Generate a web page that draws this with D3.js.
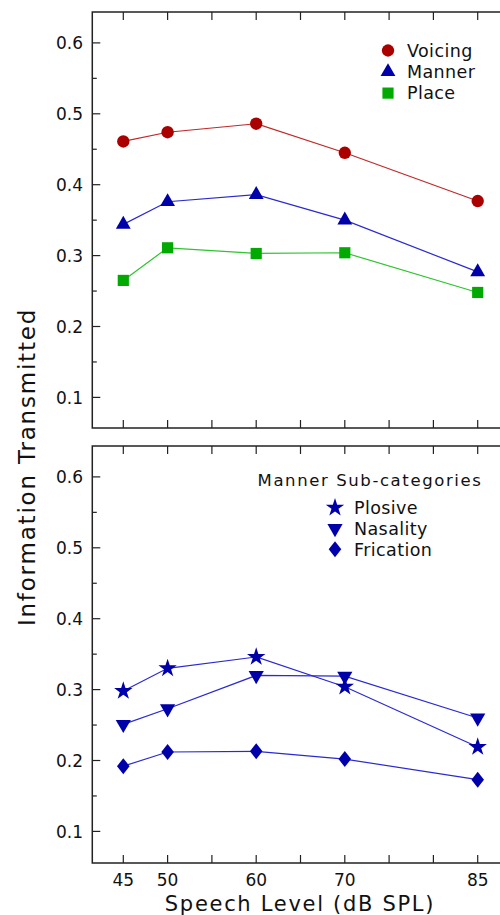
<!DOCTYPE html>
<html>
<head>
<meta charset="utf-8">
<script src="https://cdn.jsdelivr.net/npm/d3@7"></script>
<style>
  body { margin: 0; background: #fff; }
  text { font-family: "DejaVu Sans", sans-serif; fill: #111; }
</style>
</head>
<body>
<svg id="chart" width="500" height="915"></svg>
<script>
const levels = [45, 50, 60, 70, 85];
const xTickLabels = [45, 50, 60, 70, 85];
const yTickLabels = [0.1, 0.2, 0.3, 0.4, 0.5, 0.6];

const voicing = [0.461, 0.474, 0.486, 0.445, 0.377];
const manner = [0.344, 0.376, 0.386, 0.350, 0.277];
const place = [0.265, 0.311, 0.303, 0.304, 0.248];

const plosive = [0.298, 0.330, 0.346, 0.304, 0.219];
const nasality = [0.251, 0.273, 0.320, 0.319, 0.260];
const frication = [0.192, 0.212, 0.213, 0.202, 0.173];

const svg = d3.select('#chart');

const x = d3.scaleLinear()
  .domain([45, 85])
  .range([123.3, 477.7]);

const xMin = 41.5, xMax = 89;
const tickLen = 8, minorLen = 4.5;

const panels = [
  {
    top: 12, bottom: 428,
    series: [
      {name: 'Voicing', values: voicing, shape: d3.symbolCircle, size: 120, tf: '', fill: '#aa0000', line: '#c02828'},
      {name: 'Manner', values: manner, shape: d3.symbolTriangle, size: 95, tf: '', fill: '#0000aa', line: '#2a2ad0'},
      {name: 'Place', values: place, shape: d3.symbolSquare, size: 125, tf: '', fill: '#00aa00', line: '#2ec42e'}
    ],
    legend: {x: 388, y: 50.5, dy: 21.3, textX: 407}
  },
  {
    top: 446, bottom: 863,
    series: [
      {name: 'Plosive', values: plosive, shape: d3.symbolStar, size: 105, tf: '', fill: '#0000aa', line: '#2a2ad0'},
      {name: 'Nasality', values: nasality, shape: d3.symbolTriangle, size: 100, tf: 'rotate(180)', fill: '#0000aa', line: '#2a2ad0'},
      {name: 'Frication', values: frication, shape: d3.symbolDiamond2, size: 140, tf: 'scale(0.85,1.08)', fill: '#0000aa', line: '#2a2ad0'}
    ],
    legend: {x: 335, y: 507.7, dy: 20.8, textX: 354, title: 'Manner Sub-categories', titleX: 370, titleY: 480}
  }
];

panels.forEach((p, pi) => {
  // 0.1 step = 70.9 px, 0.6 sits ~31 px below panel top
  const yScale = d3.scaleLinear()
    .domain([0.6, 0.1])
    .range([p.top + 30.9, p.top + 30.9 + 354.5]);

  const g = svg.append('g');

  // frame (right side lies beyond the picture)
  g.append('path')
    .attr('d', `M${x(xMax)},${p.top}H${x(xMin)}V${p.bottom}H${x(xMax)}`)
    .attr('fill', 'none')
    .attr('stroke', '#222')
    .attr('stroke-width', 1.5);

  // x ticks top and bottom, inward
  const xt = d3.range(45, 86, 5);
  g.selectAll('.xt-top').data(xt).enter().append('line')
    .attr('x1', d => x(d)).attr('x2', d => x(d))
    .attr('y1', p.top).attr('y2', p.top + tickLen)
    .attr('stroke', '#222').attr('stroke-width', 1.2);
  g.selectAll('.xt-bot').data(xt).enter().append('line')
    .attr('x1', d => x(d)).attr('x2', d => x(d))
    .attr('y1', p.bottom).attr('y2', p.bottom - tickLen)
    .attr('stroke', '#222').attr('stroke-width', 1.2);

  // y ticks major and minor
  g.selectAll('.yt').data(yTickLabels).enter().append('line')
    .attr('x1', x(xMin)).attr('x2', x(xMin) + tickLen)
    .attr('y1', d => yScale(d)).attr('y2', d => yScale(d))
    .attr('stroke', '#222').attr('stroke-width', 1.2);
  g.selectAll('.ym').data([0.15, 0.25, 0.35, 0.45, 0.55]).enter().append('line')
    .attr('x1', x(xMin)).attr('x2', x(xMin) + minorLen)
    .attr('y1', d => yScale(d)).attr('y2', d => yScale(d))
    .attr('stroke', '#222').attr('stroke-width', 1.2);

  g.selectAll('.yl').data(yTickLabels).enter().append('text')
    .attr('x', 83)
    .attr('y', d => yScale(d))
    .attr('dy', '0.36em')
    .attr('text-anchor', 'end')
    .attr('font-size', 17)
    .text(d => d3.format('.1f')(d));

  const line = d3.line()
    .x((d, i) => x(levels[i]))
    .y(d => yScale(d));

  p.series.forEach((s) => {
    g.append('path')
      .datum(s.values)
      .attr('d', line)
      .attr('fill', 'none')
      .attr('stroke', s.line)
      .attr('stroke-width', 1.2);

    g.selectAll(null).data(s.values).enter().append('path')
      .attr('d', d3.symbol().type(s.shape).size(s.size))
      .attr('transform', (d, i) => `translate(${x(levels[i])},${yScale(d)}) ${s.tf}`)
      .attr('fill', s.fill);
  });

  // legend
  const lg = g.append('g');
  if (p.legend.title) {
    lg.append('text')
      .attr('x', p.legend.titleX)
      .attr('y', p.legend.titleY)
      .attr('dy', '0.36em')
      .attr('text-anchor', 'middle')
      .attr('font-size', 16.5)
      .attr('letter-spacing', 1.6)
      .text(p.legend.title);
  }
  p.series.forEach((s, i) => {
    const ly = p.legend.y + i * p.legend.dy;
    lg.append('path')
      .attr('d', d3.symbol().type(s.shape).size(s.size))
      .attr('transform', `translate(${p.legend.x},${ly}) ${s.tf}`)
      .attr('fill', s.fill);
    lg.append('text')
      .attr('x', p.legend.textX)
      .attr('y', ly)
      .attr('dy', '0.36em')
      .attr('font-size', 17.5)
      .attr('letter-spacing', 0.4)
      .text(s.name);
  });

  if (pi === 1) {
    g.selectAll('.xl').data(xTickLabels).enter().append('text')
      .attr('x', d => x(d))
      .attr('y', 880)
      .attr('dy', '0.36em')
      .attr('text-anchor', 'middle')
      .attr('font-size', 17)
      .text(d => d);
  }
});

svg.append('text')
  .attr('x', 300)
  .attr('y', 903)
  .attr('dy', '0.36em')
  .attr('text-anchor', 'middle')
  .attr('font-size', 21)
  .attr('letter-spacing', 1.7)
  .text('Speech Level (dB SPL)');

svg.append('text')
  .attr('transform', 'translate(27,467) rotate(-90)')
  .attr('dy', '0.36em')
  .attr('text-anchor', 'middle')
  .attr('font-size', 23)
  .attr('letter-spacing', 1.8)
  .text('Information Transmitted');
</script>
</body>
</html>
